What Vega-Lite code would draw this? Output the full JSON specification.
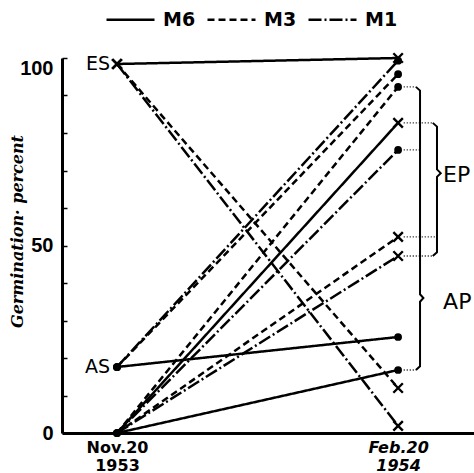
{
  "$schema": "https://vega.github.io/schema/vega-lite/v6.json",
  "width": 412,
  "height": 375,
  "autosize": "none",
  "padding": {"left": 62, "top": 58, "right": 0, "bottom": 40},
  "background": "white",
  "config": {"view": {"stroke": null}, "axis": {"grid": false}},
  "datasets": {
    "lines": [
      {"id": "ES-M6", "g": "ES", "series": "M6", "t": 0, "v": 98.4},
      {"id": "ES-M6", "g": "ES", "series": "M6", "t": 3, "v": 100},
      {"id": "ES-M3", "g": "ES", "series": "M3", "t": 0, "v": 98.4},
      {"id": "ES-M3", "g": "ES", "series": "M3", "t": 3, "v": 12},
      {"id": "ES-M1", "g": "ES", "series": "M1", "t": 0, "v": 98.4},
      {"id": "ES-M1", "g": "ES", "series": "M1", "t": 3, "v": 1.9},
      {"id": "AS-M6", "g": "AS", "series": "M6", "t": 0, "v": 17.6},
      {"id": "AS-M6", "g": "AS", "series": "M6", "t": 3, "v": 25.6},
      {"id": "AS-M3", "g": "AS", "series": "M3", "t": 0, "v": 17.6},
      {"id": "AS-M3", "g": "AS", "series": "M3", "t": 3, "v": 95.7},
      {"id": "AS-M1", "g": "AS", "series": "M1", "t": 0, "v": 17.6},
      {"id": "AS-M1", "g": "AS", "series": "M1", "t": 3, "v": 99.3},
      {"id": "EP-M6", "g": "EP", "series": "M6", "t": 0, "v": 0},
      {"id": "EP-M6", "g": "EP", "series": "M6", "t": 3, "v": 82.7},
      {"id": "EP-M3", "g": "EP", "series": "M3", "t": 0, "v": 0},
      {"id": "EP-M3", "g": "EP", "series": "M3", "t": 3, "v": 52.3},
      {"id": "EP-M1", "g": "EP", "series": "M1", "t": 0, "v": 0},
      {"id": "EP-M1", "g": "EP", "series": "M1", "t": 3, "v": 47.2},
      {"id": "AP-M6", "g": "AP", "series": "M6", "t": 0, "v": 0},
      {"id": "AP-M6", "g": "AP", "series": "M6", "t": 3, "v": 16.8},
      {"id": "AP-M3", "g": "AP", "series": "M3", "t": 0, "v": 0},
      {"id": "AP-M3", "g": "AP", "series": "M3", "t": 3, "v": 92.3},
      {"id": "AP-M1", "g": "AP", "series": "M1", "t": 0, "v": 0},
      {"id": "AP-M1", "g": "AP", "series": "M1", "t": 3, "v": 75.5}
    ],
    "brackets": [
      {"b": "AP", "i": 0, "t": 3.19, "v": 92.3},
      {"b": "AP", "i": 1, "t": 3.234, "v": 91.3},
      {"b": "AP", "i": 2, "t": 3.234, "v": 37},
      {"b": "AP", "i": 3, "t": 3.27, "v": 36},
      {"b": "AP", "i": 4, "t": 3.234, "v": 35},
      {"b": "AP", "i": 5, "t": 3.234, "v": 17.8},
      {"b": "AP", "i": 6, "t": 3.19, "v": 16.8},
      {"b": "EP", "i": 0, "t": 3.37, "v": 82.7},
      {"b": "EP", "i": 1, "t": 3.415, "v": 81.7},
      {"b": "EP", "i": 2, "t": 3.415, "v": 70.3},
      {"b": "EP", "i": 3, "t": 3.455, "v": 69.3},
      {"b": "EP", "i": 4, "t": 3.415, "v": 68.3},
      {"b": "EP", "i": 5, "t": 3.415, "v": 48.2},
      {"b": "EP", "i": 6, "t": 3.37, "v": 47.2}
    ],
    "leaders": [
      {"v": 92.3, "t": 3.06, "t2": 3.19},
      {"v": 75.5, "t": 3.06, "t2": 3.234},
      {"v": 16.8, "t": 3.06, "t2": 3.19},
      {"v": 82.7, "t": 3.06, "t2": 3.37},
      {"v": 52.3, "t": 3.06, "t2": 3.415},
      {"v": 47.2, "t": 3.06, "t2": 3.37}
    ],
    "startLabels": [
      {"label": "ES", "t": 0, "v": 98.4},
      {"label": "AS", "t": 0, "v": 17.6}
    ],
    "groupLabels": [
      {"label": "EP", "t": 3.48, "v": 68.8},
      {"label": "AP", "t": 3.48, "v": 35}
    ]
  },
  "encoding": {
    "x": {
      "field": "t", "type": "quantitative",
      "scale": {"domain": [-0.587, 3.81], "nice": false, "zero": false},
      "axis": {
        "values": [0, 3], "title": null, "ticks": false,
        "domainColor": "black", "domainWidth": 3,
        "labelExpr": "datum.value == 0 ? ['Nov.20','1953'] : ['Feb.20','1954']",
        "labelFont": "DejaVu Sans", "labelFontWeight": "bold", "labelFontSize": 16,
        "labelColor": "black", "labelLineHeight": 18, "labelPadding": 6,
        "labelBaseline": "top",
        "labelFontStyle": {"condition": {"test": "datum.value == 3", "value": "italic"}, "value": "normal"}
      }
    },
    "y": {
      "field": "v", "type": "quantitative",
      "scale": {"domain": [0, 100], "nice": false},
      "axis": {
        "values": [0, 10, 20, 30, 40, 50, 60, 70, 80, 90, 100],
        "labelExpr": "datum.value % 50 == 0 ? datum.label : ''",
        "title": "Germination· percent",
        "tickSize": -5, "tickWidth": 1.5, "tickColor": "black",
        "labelPadding": 14, "domainWidth": 3, "domainColor": "black",
        "labelFont": "Liberation Sans Narrow, Liberation Sans", "labelFontWeight": "bold",
        "labelFontSize": 20, "labelColor": "black",
        "labelBaseline": {"condition": {"test": "datum.value == 100", "value": "top"}, "value": "middle"},
        "titleFont": "DejaVu Serif", "titleFontStyle": "italic", "titleFontWeight": "bold",
        "titleFontSize": 16, "titleColor": "black",
        "titleX": -45, "titleY": 173, "titleAngle": -90,
        "titleAlign": "center", "titleBaseline": "middle"
      }
    }
  },
  "layer": [
    {
      "data": {"name": "lines"},
      "mark": {"type": "line", "stroke": "black", "strokeWidth": 2.5},
      "encoding": {
        "detail": {"field": "id"},
        "strokeDash": {
          "field": "series", "type": "nominal",
          "scale": {"domain": ["M6", "M3", "M1"], "range": [[1, 0], [7, 4], [13, 3, 2, 3]]},
          "legend": {
            "title": null, "orient": "none", "legendX": 43, "legendY": -64,
            "direction": "horizontal", "symbolType": "stroke", "symbolSize": 2304,
            "symbolStrokeWidth": 2.5, "symbolStrokeColor": "black",
            "labelFont": "DejaVu Sans", "labelFontWeight": "bold", "labelFontSize": 19,
            "labelColor": "black", "labelOffset": 7, "columnPadding": 6, "padding": 0
          }
        }
      }
    },
    {
      "data": {"name": "brackets"},
      "mark": {"type": "line", "stroke": "black", "strokeWidth": 2},
      "encoding": {"detail": {"field": "b"}, "order": {"field": "i", "type": "quantitative"}}
    },
    {
      "data": {"name": "leaders"},
      "mark": {"type": "rule", "stroke": "black", "strokeWidth": 1.3, "strokeDash": [1, 2]},
      "encoding": {"x2": {"field": "t2"}}
    },
    {
      "data": {"name": "lines"},
      "transform": [{"filter": "datum.g == 'ES' || (datum.g == 'EP' && datum.t == 3)"}],
      "mark": {"type": "point", "shape": "M-1,-1L1,1M1,-1L-1,1", "filled": false, "stroke": "black", "strokeWidth": 2.4, "size": 90, "opacity": 1},
      "encoding": {}
    },
    {
      "data": {"name": "lines"},
      "transform": [{"filter": "datum.g == 'AS' || datum.g == 'AP'"}],
      "mark": {"type": "point", "shape": "circle", "filled": true, "fill": "black", "size": 60, "opacity": 1},
      "encoding": {}
    },
    {
      "data": {"name": "startLabels"},
      "mark": {"type": "text", "align": "right", "baseline": "middle", "dx": -7, "font": "DejaVu Sans", "fontSize": 19, "fill": "black"},
      "encoding": {"text": {"field": "label"}}
    },
    {
      "data": {"name": "groupLabels"},
      "mark": {"type": "text", "align": "left", "baseline": "middle", "font": "DejaVu Sans", "fontSize": 22, "fill": "black"},
      "encoding": {"text": {"field": "label"}}
    }
  ]
}
